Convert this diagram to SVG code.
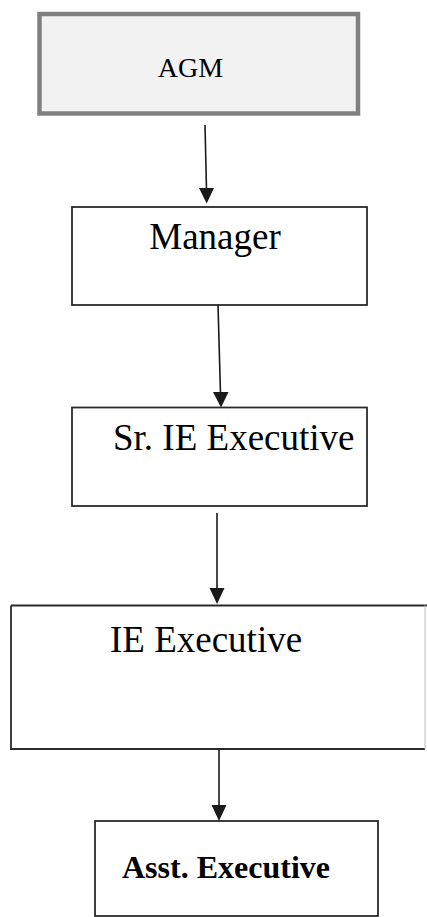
<svg xmlns="http://www.w3.org/2000/svg" width="427" height="917" viewBox="0 0 427 917">
  <style>
    .box { fill: #ffffff; stroke: #2b2b2b; stroke-width: 1.8; }
    .top { fill: #f2f2f2; stroke: #808080; stroke-width: 4.5; }
    .lbl { font-family: "Liberation Serif", "Times New Roman", serif; fill: #000000; }
    .wire { stroke: #1a1a1a; stroke-width: 1.6; fill: none; }
    .head { fill: #1a1a1a; }
  </style>
  <rect width="427" height="917" fill="#ffffff"/>

  <g id="agm">
    <rect class="top" x="39.5" y="14" width="318.5" height="99.5"/>
    <text class="lbl" x="190.5" y="77" font-size="28" text-anchor="middle">AGM</text>
  </g>

  <g id="manager">
    <rect class="box" x="72" y="207" width="295" height="98"/>
    <text class="lbl" x="215" y="249" font-size="37" text-anchor="middle">Manager</text>
  </g>

  <g id="sr-ie-executive">
    <rect class="box" x="72" y="407.5" width="295" height="98.5"/>
    <text class="lbl" x="113" y="450" font-size="37">Sr. IE Executive</text>
  </g>

  <g id="ie-executive">
    <path class="box" d="M11 605.5 H427 M11 605.5 V749 H425"/>
    <line x1="425" y1="605.5" x2="425" y2="749" stroke="#c8c8c8" stroke-width="1.2"/>
    <text class="lbl" x="110" y="652" font-size="37">IE Executive</text>
  </g>

  <g id="asst-executive">
    <rect class="box" x="95" y="821" width="283" height="95"/>
    <text class="lbl" x="122" y="878" font-size="32" font-weight="bold">Asst. Executive</text>
  </g>

  <g id="connectors">
    <line class="wire" x1="205" y1="125" x2="206.5" y2="190"/>
    <polygon class="head" points="199,188 214,188 206.7,203.5"/>

    <line class="wire" x1="218" y1="305" x2="220.5" y2="394"/>
    <polygon class="head" points="213,392 228.5,392 221,407.5"/>

    <line class="wire" x1="217" y1="513" x2="217" y2="590"/>
    <polygon class="head" points="209.5,588 224.5,588 217,604"/>

    <line class="wire" x1="219" y1="748" x2="219" y2="807"/>
    <polygon class="head" points="211.5,805 226.5,805 219,821"/>
  </g>
</svg>
